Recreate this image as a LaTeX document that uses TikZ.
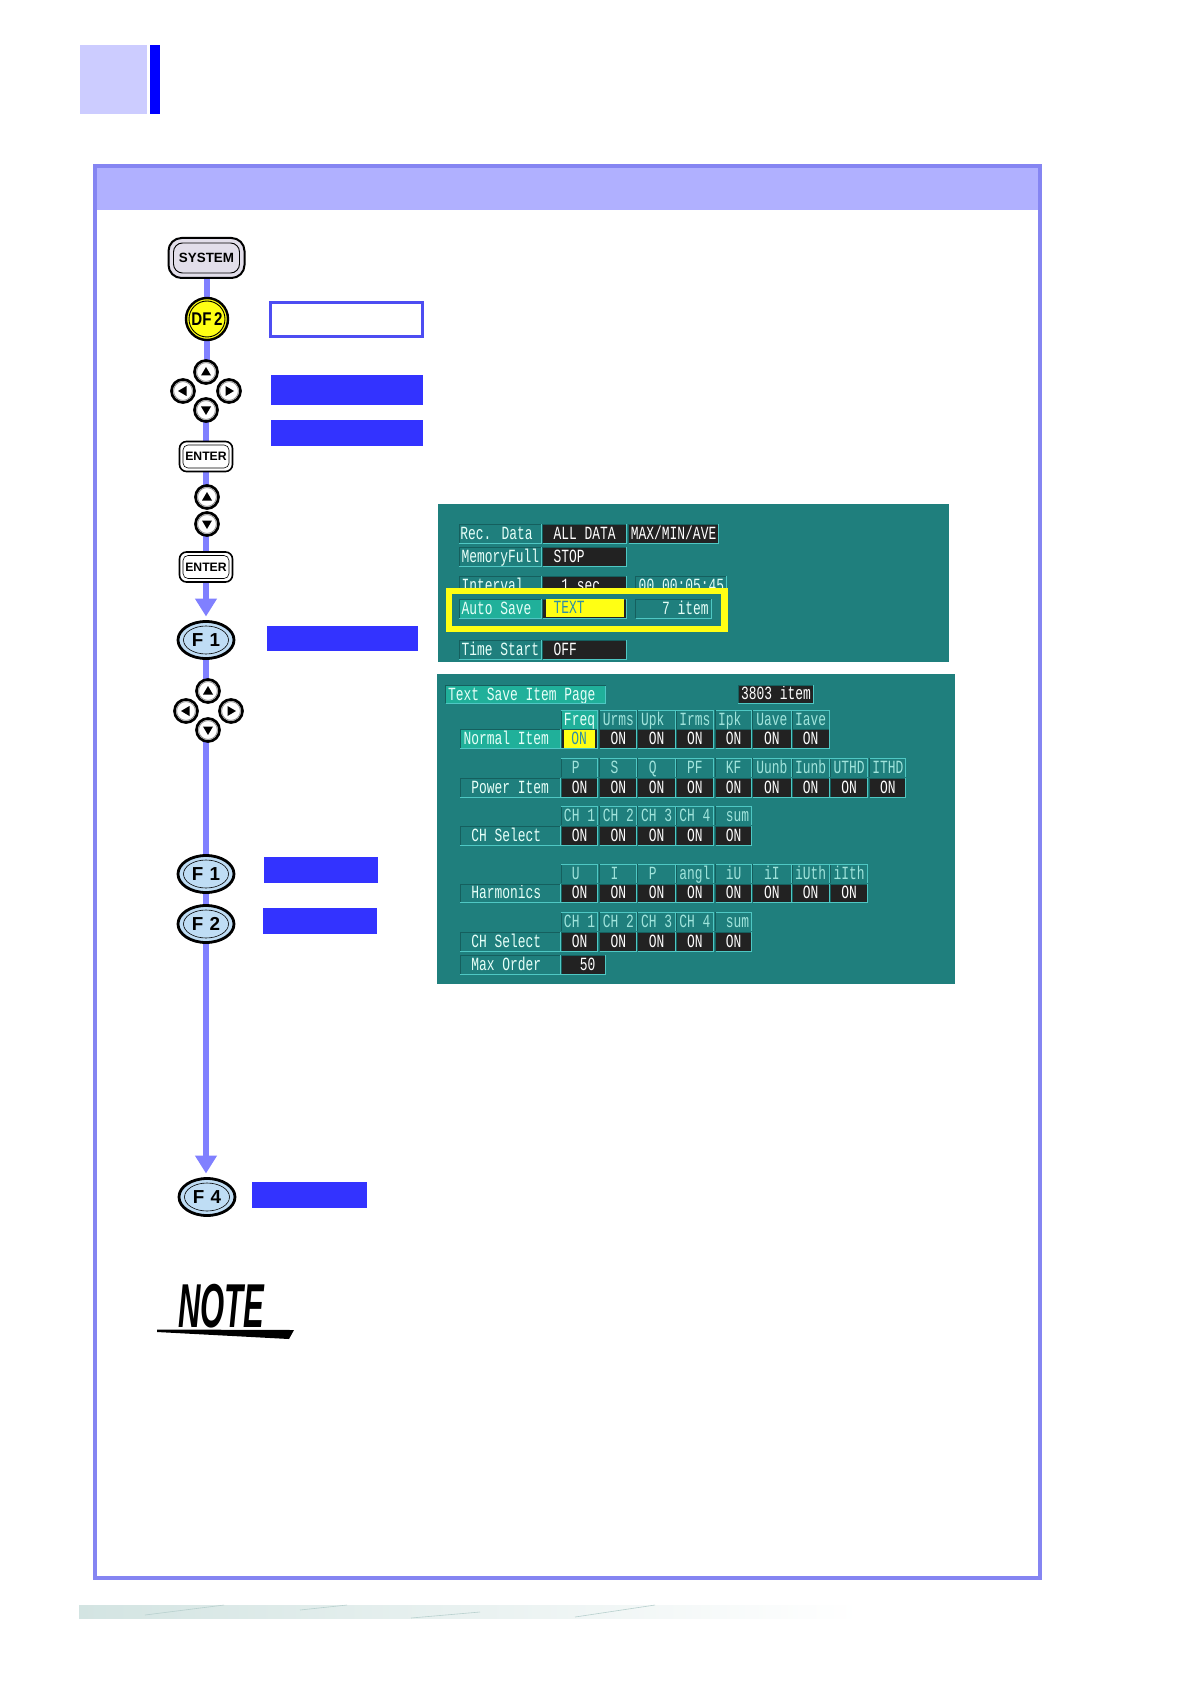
\documentclass[tikz,border=0pt]{standalone}
\usepackage{fontspec}
\usepackage{graphicx}
\usetikzlibrary{arrows.meta,backgrounds,calc,shapes.geometric}
\setmainfont{Liberation Sans}
\newfontfamily\scrfont[FakeStretch=0.695]{Liberation Mono}
\definecolor{teal0}{HTML}{1F7F7D}
\definecolor{hlteal}{HTML}{20B09A}
\definecolor{edgeL}{HTML}{4FC8C4}
\definecolor{edgeD}{HTML}{155F5E}
\definecolor{cellD}{HTML}{222222}
\definecolor{headT}{HTML}{A0E4DC}
\definecolor{labT}{HTML}{E6FFF8}
\definecolor{conn}{HTML}{8080FF}
\definecolor{barB}{HTML}{3333FF}
\definecolor{frameB}{HTML}{8585F2}
\definecolor{bandB}{HTML}{B0B0FF}
\definecolor{tabL}{HTML}{CCCCFF}
\definecolor{keyF}{HTML}{BFDDF5}
\definecolor{sysF}{HTML}{E2DEEA}
\definecolor{yel}{HTML}{FFFF14}
\definecolor{yelT}{HTML}{2F8FA5}
\definecolor{labB}{HTML}{4D4DF2}
\definecolor{stripA}{HTML}{D3E4E2}
\definecolor{stripB}{HTML}{E2ECEB}
\definecolor{stripL}{HTML}{B8D0CE}
\tikzset{
  x=0.5pt,y=-0.5pt,
  bluebar/.style={fill=barB,draw=none,inner sep=0pt,outer sep=0pt},
  connline/.style={draw=conn,line width=3pt},
  connarrow/.style={connline,-{Triangle[width=10.5pt,length=9pt]},shorten >=2.5pt},
  cellbase/.style={inner sep=0pt,outer sep=0pt,font=\scrfont\fontsize{9.3}{10}\selectfont,text height=7.4pt,text depth=1.5pt,draw=none},
  labelcell/.style={cellbase,text=labT},
  darkcell/.style={cellbase,fill=cellD,text=white},
  headcell/.style={cellbase,text=headT},
  hlcell/.style={cellbase,fill=hlteal,text=labT},
  yelcell/.style={cellbase,fill=yel,text=yelT},
  edgelight/.style={draw=edgeL,line width=0.45pt},
  edgedark/.style={draw=edgeD,line width=0.45pt},
  roundkey/.style={circle,draw=black,fill=white,line width=1.35pt,minimum size=11.5pt,inner sep=0pt,outer sep=0pt},
  fkey/.style={ellipse,draw=black,fill=keyF,line width=1.4pt,minimum width=28pt,minimum height=18.5pt,inner sep=0pt,outer sep=0pt,font=\bfseries\fontsize{9.4}{10}\selectfont},
  enterkey/.style={rounded corners=3.5pt,draw=black,fill=white,line width=0.8pt,minimum width=26.5pt,minimum height=15pt,inner sep=0pt,outer sep=0pt,font=\bfseries\fontsize{6.1}{7}\selectfont},
  innerline/.style={draw=black,line width=0.3pt},
}
% plain box: name x1 y1 x2 y2 style text
\newcommand\plainbox[7]{%
  \node[#6,minimum width={(#4-#2)*0.5pt},minimum height={(#5-#3)*0.5pt}] (#1) at ({(#2+#4)/2},{(#3+#5)/2}) {#7};}
\newcommand\cellbox[7]{%
  \plainbox{#1}{#2}{#3}{#4}{#5}{#6}{#7}%
  \draw[edgedark] (#1.south west) -- (#1.north west) -- (#1.north east);
  \draw[edgelight] (#1.south west) -- (#1.south east) -- (#1.north east);}
\newcommand\headbox[7]{%
  \plainbox{#1}{#2}{#3}{#4}{#5}{#6}{#7}%
  \draw[edgedark] (#1.south west) -- (#1.north west);
  \draw[edgelight] (#1.north west) -- (#1.north east) -- (#1.south east);}
\newcommand\colA{{561.4,599.7,637.9,676.2,715.5,752.8,792,830.4,869.7}}
\newcommand\colB{{597.6,636.9,675.2,713.5,751.7,791,829.3,867.6,905.9}}
% name y1 y2 list first-column
\newcommand\headrow[5]{%
  \foreach \t [count=\n from #5] in {#4}{%
    \pgfmathsetmacro\ca{\colA[\n-1]}%
    \pgfmathsetmacro\cb{\colB[\n-1]}%
    \headbox{#1h\n}{\ca}{#2}{\cb}{#3}{headcell}{\t}}}
% name y1 y2 last-column first-column
\newcommand\onrow[5]{%
  \foreach \n in {#5,...,#4}{%
    \pgfmathsetmacro\ca{\colA[\n-1]}%
    \pgfmathsetmacro\cb{\colB[\n-1]}%
    \cellbox{#1v\n}{\ca}{#2}{\cb}{#3}{darkcell}{ON}}}
% arrow key: name x y rotation
\newcommand\arrowkey[4]{%
  \node[roundkey] (#1) at (#2,#3) {};
  \draw[draw=black!45,line width=0.35pt] (#1.center) circle[radius=9.4];
  \fill[shift={(#1.center)},rotate=#4] (0,-5) -- (5,3.5) -- (-5,3.5) -- cycle;}
\newcommand\fnkey[4]{%
  \node[fkey] (#1) at (#2,#3) {#4};
  \draw[innerline] (#1.center) ellipse[x radius=22.5,y radius=14];}
\newcommand\enterkeybox[3]{%
  \node[enterkey] (#1) at (#2,#3) {ENTER};
  \draw[innerline,rounded corners=2.5pt] ($(#1.south west)+(3.5,-3.5)$) rectangle ($(#1.north east)+(-3.5,3.5)$);}
\begin{document}
\begin{tikzpicture}
\useasboundingbox (0,0) rectangle (1190,1684);
% page tab
\plainbox{tab}{80}{45}{147}{114}{fill=tabL,inner sep=0pt,outer sep=0pt}{}
\plainbox{tabbar}{150}{45}{160}{114}{fill=blue,inner sep=0pt,outer sep=0pt}{}
% frame
\fill[bandB] (93,164) rectangle (1042,210);
\draw[frameB,line width=1.9pt] (95,166) rectangle (1040,1578);
% footer strip
\shade[left color=stripA,middle color=stripB,right color=white,draw=none] (79,1605) rectangle (860,1618);
\draw[stripL,line width=0.3pt] (145,1615) -- (224,1605);
\draw[stripL,line width=0.3pt] (300,1610) -- (347,1605);
\draw[stripL,line width=0.3pt] (411,1618) -- (480,1612);
\draw[stripL,line width=0.3pt] (575,1617) -- (655,1605);
% keys
\node[rounded corners=6.5pt,draw=black,fill=sysF,line width=1pt,minimum width=38pt,minimum height=20pt,inner sep=0pt,outer sep=0pt,font=\bfseries\fontsize{6.7}{8}\selectfont] (sys) at (206.5,258) {SYSTEM};
\draw[innerline,rounded corners=4.5pt,line width=0.45pt] ($(sys.south west)+(5,-5)$) rectangle ($(sys.north east)+(-5,5)$);
\node[circle,draw=black,fill=yel,line width=1.2pt,minimum size=21pt,inner sep=0pt,outer sep=0pt,font=\bfseries\fontsize{9.2}{10}\selectfont] (df2) at (207,319) {\scalebox{0.82}[1]{DF\,2}};
\draw[innerline,line width=0.45pt] (df2.center) circle[radius=18];
\arrowkey{upa}{206}{372}{0}
\arrowkey{lefta}{183}{391}{90}
\arrowkey{righta}{229}{391}{270}
\arrowkey{downa}{206}{410}{180}
\enterkeybox{enta}{206}{456.5}
\arrowkey{upb}{207}{497}{0}
\arrowkey{downb}{207}{524}{180}
\enterkeybox{entb}{206}{567}
\fnkey{fa}{206}{640}{F\,\,1}
\arrowkey{upc}{208}{691}{0}
\arrowkey{leftc}{186}{711}{90}
\arrowkey{rightc}{231}{711}{270}
\arrowkey{downc}{208}{730}{180}
\fnkey{fb}{206}{874}{F\,\,1}
\fnkey{fc}{206}{924}{F\,\,2}
\fnkey{fd}{207}{1197}{F\,\,4}
% connectors
\begin{scope}[on background layer]
\draw[connline] (sys) -- (sys |- df2.north);
\draw[connline] (df2 -| sys) -- (sys |- upa.north);
\draw[connline] (downa) -- (enta);
\draw[connline] (enta) -- (enta |- upb.north);
\draw[connline] (downb -| entb) -- (entb);
\draw[connarrow] (entb) -- (entb |- fa.north);
\draw[connline] (fa) -- (fa |- upc.north);
\draw[connline] (fb |- downc.south) -- (fb);
\draw[connline] (fb) -- (fc);
\draw[connarrow] (fc) -- (fc |- fd.north);
\end{scope}
% label boxes
\plainbox{lab1}{270.5}{302.5}{422.5}{336.5}{draw=labB,fill=white,line width=1.4pt,inner sep=0pt,outer sep=0pt}{}
\plainbox{bara}{271}{375}{423}{405}{bluebar}{}
\plainbox{barb}{271}{420}{423}{446}{bluebar}{}
\plainbox{barc}{267}{626}{418}{651}{bluebar}{}
\plainbox{bard}{264}{857}{378}{883}{bluebar}{}
\plainbox{bare}{263}{908}{377}{934}{bluebar}{}
\plainbox{barf}{252}{1182}{367}{1208}{bluebar}{}
% NOTE
\node[inner sep=0pt,outer sep=0pt,font=\bfseries\itshape\fontsize{31}{32}\selectfont] (note) at (221.5,1306) {\scalebox{0.5}[1]{NOTE}};
\fill (157,1329.5) -- (294,1330) -- (289,1339) -- (157,1332) -- cycle;
% screen 1
\plainbox{scra}{438.3}{504}{949.3}{662}{fill=teal0,inner sep=0pt,outer sep=0pt}{}
\cellbox{recl}{459}{524}{541.7}{543}{labelcell}{Rec. Data~~}
\cellbox{recv}{542.8}{524}{626.6}{543}{darkcell}{ALL DATA}
\cellbox{recm}{628.6}{524}{718.6}{543}{darkcell}{MAX/MIN/AVE}
\cellbox{meml}{459}{547}{541.7}{566}{labelcell}{MemoryFull}
\cellbox{memv}{542.8}{547}{626.6}{566}{darkcell}{STOP~~~~~}
\cellbox{intl}{459}{576}{541.7}{595}{labelcell}{Interval~~~}
\cellbox{intv}{542.8}{576}{626.6}{595}{darkcell}{~1 sec~~~}
\cellbox{intt}{635.9}{576}{726.9}{595}{labelcell}{00 00:05:45}
\draw[draw=yel,fill=teal0,line width=3.4pt] (449,591) rectangle (724.5,629);
\cellbox{autl}{459}{599}{541.7}{618}{hlcell}{Auto Save~~}
\cellbox{autv}{542.8}{599}{626.6}{618}{darkcell}{}
\plainbox{auty}{545.9}{600}{623.5}{616}{yelcell}{TEXT~~~~~}
\cellbox{auti}{635.9}{599}{711.4}{618}{labelcell}{~~~7 item}
\cellbox{timl}{459}{640}{541.7}{659}{labelcell}{Time Start}
\cellbox{timv}{542.8}{640}{626.6}{659}{darkcell}{OFF~~~~~~}
% screen 2
\plainbox{scrb}{437.2}{674}{954.5}{984}{fill=teal0,inner sep=0pt,outer sep=0pt}{}
\cellbox{title}{445.5}{686}{605.9}{703}{hlcell}{Text Save Item Page~~}
\cellbox{count}{738.3}{685}{813.8}{703}{darkcell}{3803 item}
\cellbox{rowa}{460}{729}{560.3}{748}{hlcell}{Normal Item~~}
\headbox{rahl}{561.4}{710}{597.6}{729}{hlcell}{Freq}
\headrow{ra}{710}{729}{Urms,Upk~~,Irms,Ipk~~,Uave,Iave}{2}
\cellbox{rav1}{561.4}{729}{597.6}{748}{darkcell}{}
\plainbox{rayl}{563.5}{731}{594.5}{747}{yelcell}{ON}
\onrow{ra}{729}{748}{7}{2}
\cellbox{rowb}{460}{778}{560.3}{797}{labelcell}{Power Item}
\headrow{rb}{758}{777}{~P~~~,~S~~~,~Q~~~,PF,KF,Uunb,Iunb,UTHD,ITHD}{1}
\onrow{rb}{778}{797}{9}{1}
\cellbox{rowc}{460}{826}{560.3}{845}{labelcell}{CH Select~~}
\headrow{rc}{806}{825}{CH 1,CH 2,CH 3,CH 4,~sum}{1}
\onrow{rc}{826}{845}{5}{1}
\cellbox{rowd}{460}{884}{560.3}{902}{labelcell}{Harmonics~~}
\headrow{rd}{864}{883}{~U~~~,~I~~~,~P~~~,angl,iU,iI,iUth,iIth}{1}
\onrow{rd}{884}{902}{8}{1}
\cellbox{rowe}{460}{932}{560.3}{951}{labelcell}{CH Select~~}
\headrow{re}{912}{931}{CH 1,CH 2,CH 3,CH 4,~sum}{1}
\onrow{re}{932}{951}{5}{1}
\cellbox{rowf}{460}{955}{560.3}{974}{labelcell}{Max Order~~}
\cellbox{rowfv}{561.4}{955}{605.9}{974}{darkcell}{~~50~~}
\end{tikzpicture}
\end{document}
